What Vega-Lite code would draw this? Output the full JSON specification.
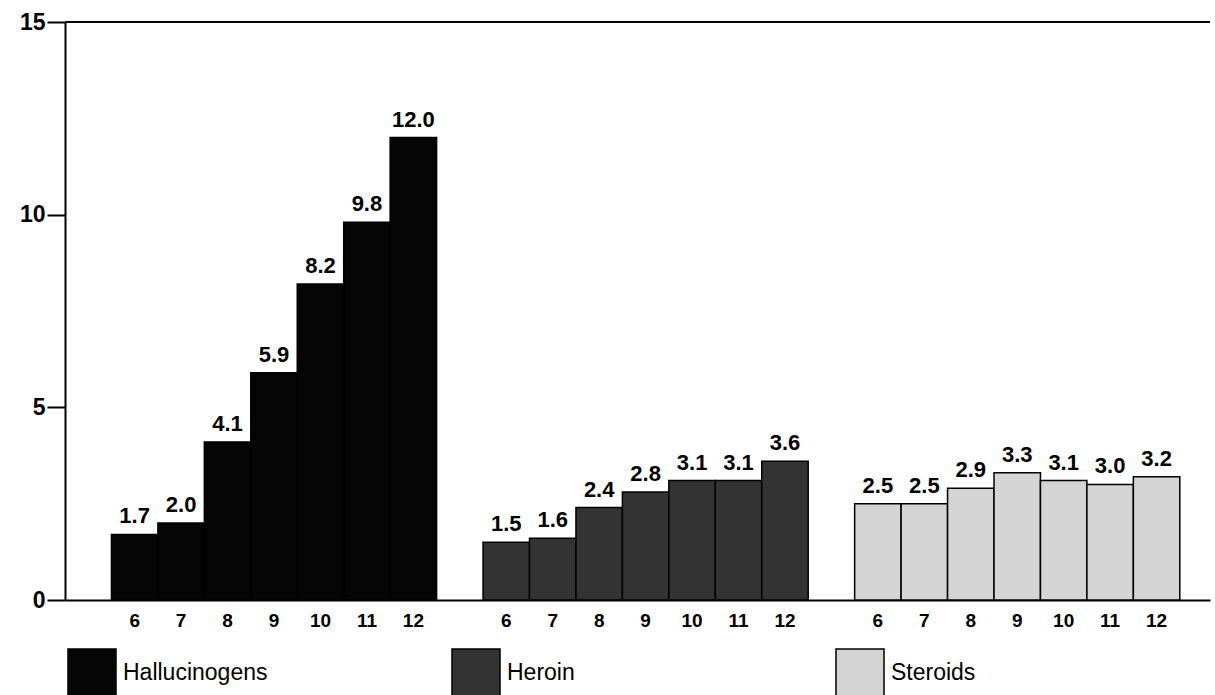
{
  "$schema": "https://vega.github.io/schema/vega-lite/v6.json",
  "autosize": {"type": "none"},
  "padding": {"left": 65, "top": 22, "right": 5, "bottom": 95},
  "width": 1145,
  "height": 578,
  "background": "white",
  "config": {
    "font": "Liberation Sans",
    "view": {"stroke": null}
  },
  "data": {
    "values": [
      {"drug": "Hallucinogens", "grade": "6", "key": "Hallucinogens 6", "pct": 1.7},
      {"drug": "Hallucinogens", "grade": "7", "key": "Hallucinogens 7", "pct": 2.0},
      {"drug": "Hallucinogens", "grade": "8", "key": "Hallucinogens 8", "pct": 4.1},
      {"drug": "Hallucinogens", "grade": "9", "key": "Hallucinogens 9", "pct": 5.9},
      {"drug": "Hallucinogens", "grade": "10", "key": "Hallucinogens 10", "pct": 8.2},
      {"drug": "Hallucinogens", "grade": "11", "key": "Hallucinogens 11", "pct": 9.8},
      {"drug": "Hallucinogens", "grade": "12", "key": "Hallucinogens 12", "pct": 12.0},
      {"drug": "Heroin", "grade": "6", "key": "Heroin 6", "pct": 1.5},
      {"drug": "Heroin", "grade": "7", "key": "Heroin 7", "pct": 1.6},
      {"drug": "Heroin", "grade": "8", "key": "Heroin 8", "pct": 2.4},
      {"drug": "Heroin", "grade": "9", "key": "Heroin 9", "pct": 2.8},
      {"drug": "Heroin", "grade": "10", "key": "Heroin 10", "pct": 3.1},
      {"drug": "Heroin", "grade": "11", "key": "Heroin 11", "pct": 3.1},
      {"drug": "Heroin", "grade": "12", "key": "Heroin 12", "pct": 3.6},
      {"drug": "Steroids", "grade": "6", "key": "Steroids 6", "pct": 2.5},
      {"drug": "Steroids", "grade": "7", "key": "Steroids 7", "pct": 2.5},
      {"drug": "Steroids", "grade": "8", "key": "Steroids 8", "pct": 2.9},
      {"drug": "Steroids", "grade": "9", "key": "Steroids 9", "pct": 3.3},
      {"drug": "Steroids", "grade": "10", "key": "Steroids 10", "pct": 3.1},
      {"drug": "Steroids", "grade": "11", "key": "Steroids 11", "pct": 3.0},
      {"drug": "Steroids", "grade": "12", "key": "Steroids 12", "pct": 3.2}
    ]
  },
  "encoding": {
    "x": {
      "field": "key",
      "type": "nominal",
      "sort": null,
      "scale": {
        "domain": ["Hallucinogens 6", "Hallucinogens 7", "Hallucinogens 8", "Hallucinogens 9", "Hallucinogens 10", "Hallucinogens 11", "Hallucinogens 12", "gap1",
                   "Heroin 6", "Heroin 7", "Heroin 8", "Heroin 9", "Heroin 10", "Heroin 11", "Heroin 12", "gap2",
                   "Steroids 6", "Steroids 7", "Steroids 8", "Steroids 9", "Steroids 10", "Steroids 11", "Steroids 12"],
        "paddingInner": 0,
        "paddingOuter": 0.825,
        "align": 0.606
      },
      "axis": {
        "title": null,
        "labelAngle": 0,
        "labelExpr": "indexof(datum.value, 'gap') >= 0 ? '' : split(datum.value, ' ')[1]",
        "labelFontSize": 19,
        "labelFontWeight": "bold",
        "labelColor": "black",
        "labelPadding": 11,
        "ticks": false,
        "domainColor": "black",
        "domainWidth": 2
      }
    },
    "y": {
      "field": "pct",
      "type": "quantitative",
      "scale": {"domain": [0, 15]},
      "axis": {
        "title": null,
        "values": [0, 5, 10, 15],
        "grid": false,
        "tickSize": 18,
        "tickColor": "black",
        "tickWidth": 2,
        "labelFontSize": 23,
        "labelFontWeight": "bold",
        "labelColor": "black",
        "labelPadding": 2,
        "domainColor": "black",
        "domainWidth": 2
      }
    }
  },
  "layer": [
    {
      "mark": {"type": "bar", "stroke": "black", "strokeWidth": 1.5},
      "encoding": {
        "fill": {
          "field": "drug",
          "type": "nominal",
          "scale": {
            "domain": ["Hallucinogens", "Heroin", "Steroids"],
            "range": ["#050505", "#333333", "#d4d4d4"]
          },
          "legend": {
            "title": null,
            "orient": "none",
            "legendX": 2,
            "legendY": 626,
            "direction": "horizontal",
            "columns": 3,
            "gridAlign": "all",
            "columnPadding": 181,
            "symbolType": "square",
            "symbolSize": 2304,
            "symbolStrokeColor": "black",
            "symbolStrokeWidth": 1.5,
            "labelFontSize": 23,
            "labelColor": "black",
            "labelOffset": 6,
            "labelLimit": 300,
            "padding": 0
          }
        }
      }
    },
    {
      "mark": {"type": "text", "baseline": "bottom", "dy": -6, "fontSize": 22, "fontWeight": "bold", "color": "black"},
      "encoding": {
        "text": {"field": "pct", "type": "quantitative", "format": ".1f"}
      }
    },
    {
      "mark": {"type": "rule", "color": "black", "strokeWidth": 2},
      "encoding": {"y": {"datum": 15}, "x": null}
    }
  ]
}
